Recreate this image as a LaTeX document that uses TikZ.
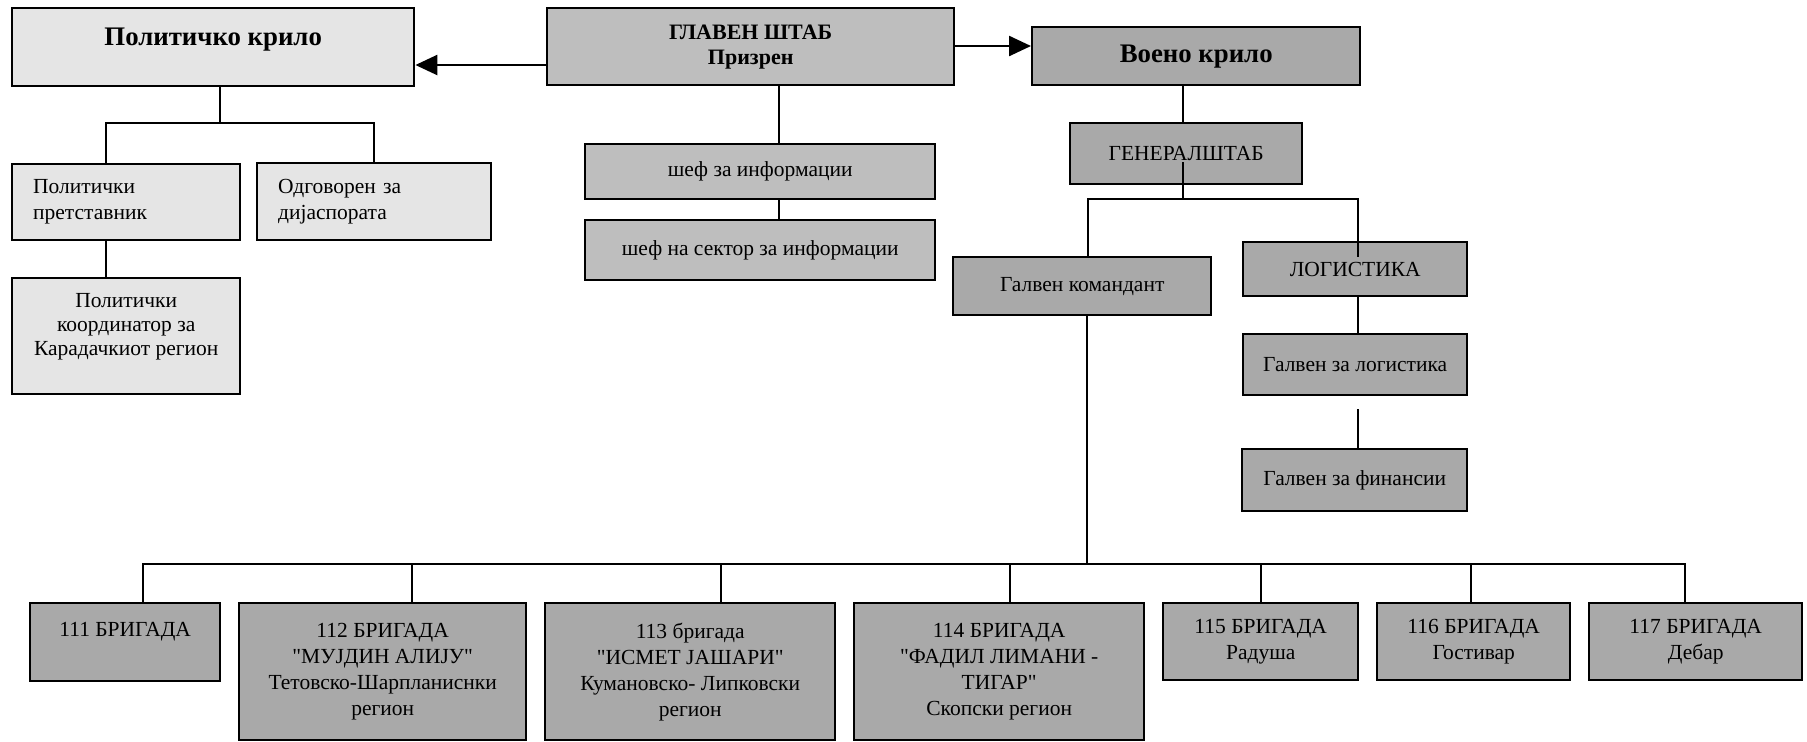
\documentclass[tikz,border=0pt]{standalone}
\usepackage{fontspec}
\setmainfont{Liberation Serif}[Ligatures=TeXOff]
\usetikzlibrary{arrows.meta}
\definecolor{polfill}{HTML}{E5E5E5}
\definecolor{hqfill}{HTML}{BEBEBE}
\definecolor{milfill}{HTML}{A9A9A9}
\newcommand\bx[7]{\node[#6, minimum width={(#4-#2)*0.5pt}, minimum height={(#5-#3)*0.5pt}] (#1) at (#2,#3) {#7};}
\begin{document}
\begin{tikzpicture}[x=0.5pt,y=-0.5pt,
  box/.style={draw=black, line width=1.2pt, anchor=north west, inner sep=0pt, align=center, font=\fontsize{10.75}{13}\selectfont},
  pol/.style={box, fill=polfill},
  hq/.style={box, fill=hqfill},
  mil/.style={box, fill=milfill},
  title/.style={font=\fontsize{13.4}{16}\selectfont\bfseries},
  conn/.style={line width=1pt},
  busline/.style={line width=1.4pt},
  arr/.style={line width=1.2pt, -{Triangle[length=11pt,width=10pt]}}]
\fill[white] (0,0) rectangle (1807,741);
\useasboundingbox (0,0) rectangle (1807,741);

% boxes
\bx{P}{11}{7}{413}{85}{pol,title,text height=10pt,text depth=12pt}{Политичко крило}
\bx{G}{546}{7}{953}{84}{hq,font=\fontsize{11}{12.5}\selectfont\bfseries}{ГЛАВЕН ШТАБ\\Призрен}
\bx{V}{1031}{26}{1359}{84}{mil,title}{Воено крило}
\bx{PP}{11}{163}{239}{239}{pol,align=left,text width=93pt,inner xsep=10.5pt}{Политички\\претставник}
\bx{OD}{256}{162}{490}{239}{pol,align=left,text width=96pt,inner xsep=10.5pt}{Одговорен за\\дијаспората}
\bx{PK}{11}{277}{239}{393}{pol,font=\fontsize{10.75}{12}\selectfont}{Политички\\координатор за\\Карадачкиот регион\\\mbox{}}
\bx{S1}{584}{143}{934}{198}{hq}{шеф за информации}
\bx{S2}{584}{219}{934}{279}{hq}{шеф на сектор за информации}
\bx{GS}{1069}{122}{1301}{183}{mil}{ГЕНЕРАЛШТАБ}
\bx{GK}{952}{256}{1210}{314}{mil}{Галвен командант}
\bx{LO}{1242}{241}{1466}{295}{mil}{ЛОГИСТИКА}
\bx{GL}{1242}{333}{1466}{394}{mil}{Галвен за логистика}
\bx{GF}{1241}{448}{1466}{510}{mil}{Галвен за финансии}
\bx{B111}{29}{602}{219}{680}{mil}{111 БРИГАДА\\\mbox{}}
\bx{B112}{238}{602}{525}{739}{mil}{112 БРИГАДА\\"МУЈДИН АЛИЈУ"\\Тетовско-Шарпланиснки\\регион}
\bx{B113}{544}{602}{834}{739}{mil}{113 бригада\\"ИСМЕТ ЈАШАРИ"\\Кумановско- Липковски\\регион}
\bx{B114}{853}{602}{1143}{739}{mil}{114 БРИГАДА\\"ФАДИЛ ЛИМАНИ -\\ТИГАР"\\Скопски регион}
\bx{B115}{1162}{602}{1357}{679}{mil}{115 БРИГАДА\\Радуша}
\bx{B116}{1376}{602}{1569}{679}{mil}{116 БРИГАДА\\Гостивар}
\bx{B117}{1588}{602}{1801}{679}{mil}{117 БРИГАДА\\Дебар}

% junction coordinates
\coordinate (pj) at (220,123);
\coordinate (gsin) at (1183,162);
\coordinate (gj) at (1183,199);
\coordinate (loin) at (1358,257);
\coordinate (gfl) at (1358,409);
\coordinate (bus) at (1087,564);
\coordinate (busl) at (143,564);
\coordinate (busr) at (1685,564);

% arrows from HQ
\draw[arr] (G.west |- 0,65) -- (P.east |- 0,65);
\draw[arr] (G.east |- 0,46) -- (V.west |- 0,46);

% political wing
\draw[conn] (P.south -| pj) -- (pj);
\draw[conn] (PP.north -| 106,0) |- (pj) -| (OD.north -| 374,0);
\draw[conn] (PP.south -| 106,0) -- (PK.north -| 106,0);

% HQ info
\draw[conn] (G.south -| 779,0) -- (S1.north -| 779,0);
\draw[conn] (S1.south -| 779,0) -- (S2.north -| 779,0);

% military wing
\draw[conn] (V.south -| gj) -- (GS.north -| gj);
\draw[conn] (gsin) -- (gj);
\draw[conn] (GK.north -| 1088,0) |- (gj) -| (loin);
\draw[conn] (LO.south -| loin) -- (GL.north -| loin);
\draw[conn] (gfl) -- (GF.north -| gfl);
\draw[conn] (GK.south -| bus) -- (bus);

% brigades bus
\draw[busline] (B111.north -| busl) -- (busl) -- (busr) -- (B117.north -| busr);
\draw[conn] (B112.north -| 412,0) -- (412,564);
\draw[conn] (B113.north -| 721,0) -- (721,564);
\draw[conn] (B114.north -| 1010,0) -- (1010,564);
\draw[conn] (B115.north -| 1261,0) -- (1261,564);
\draw[conn] (B116.north -| 1471,0) -- (1471,564);
\end{tikzpicture}
\end{document}
